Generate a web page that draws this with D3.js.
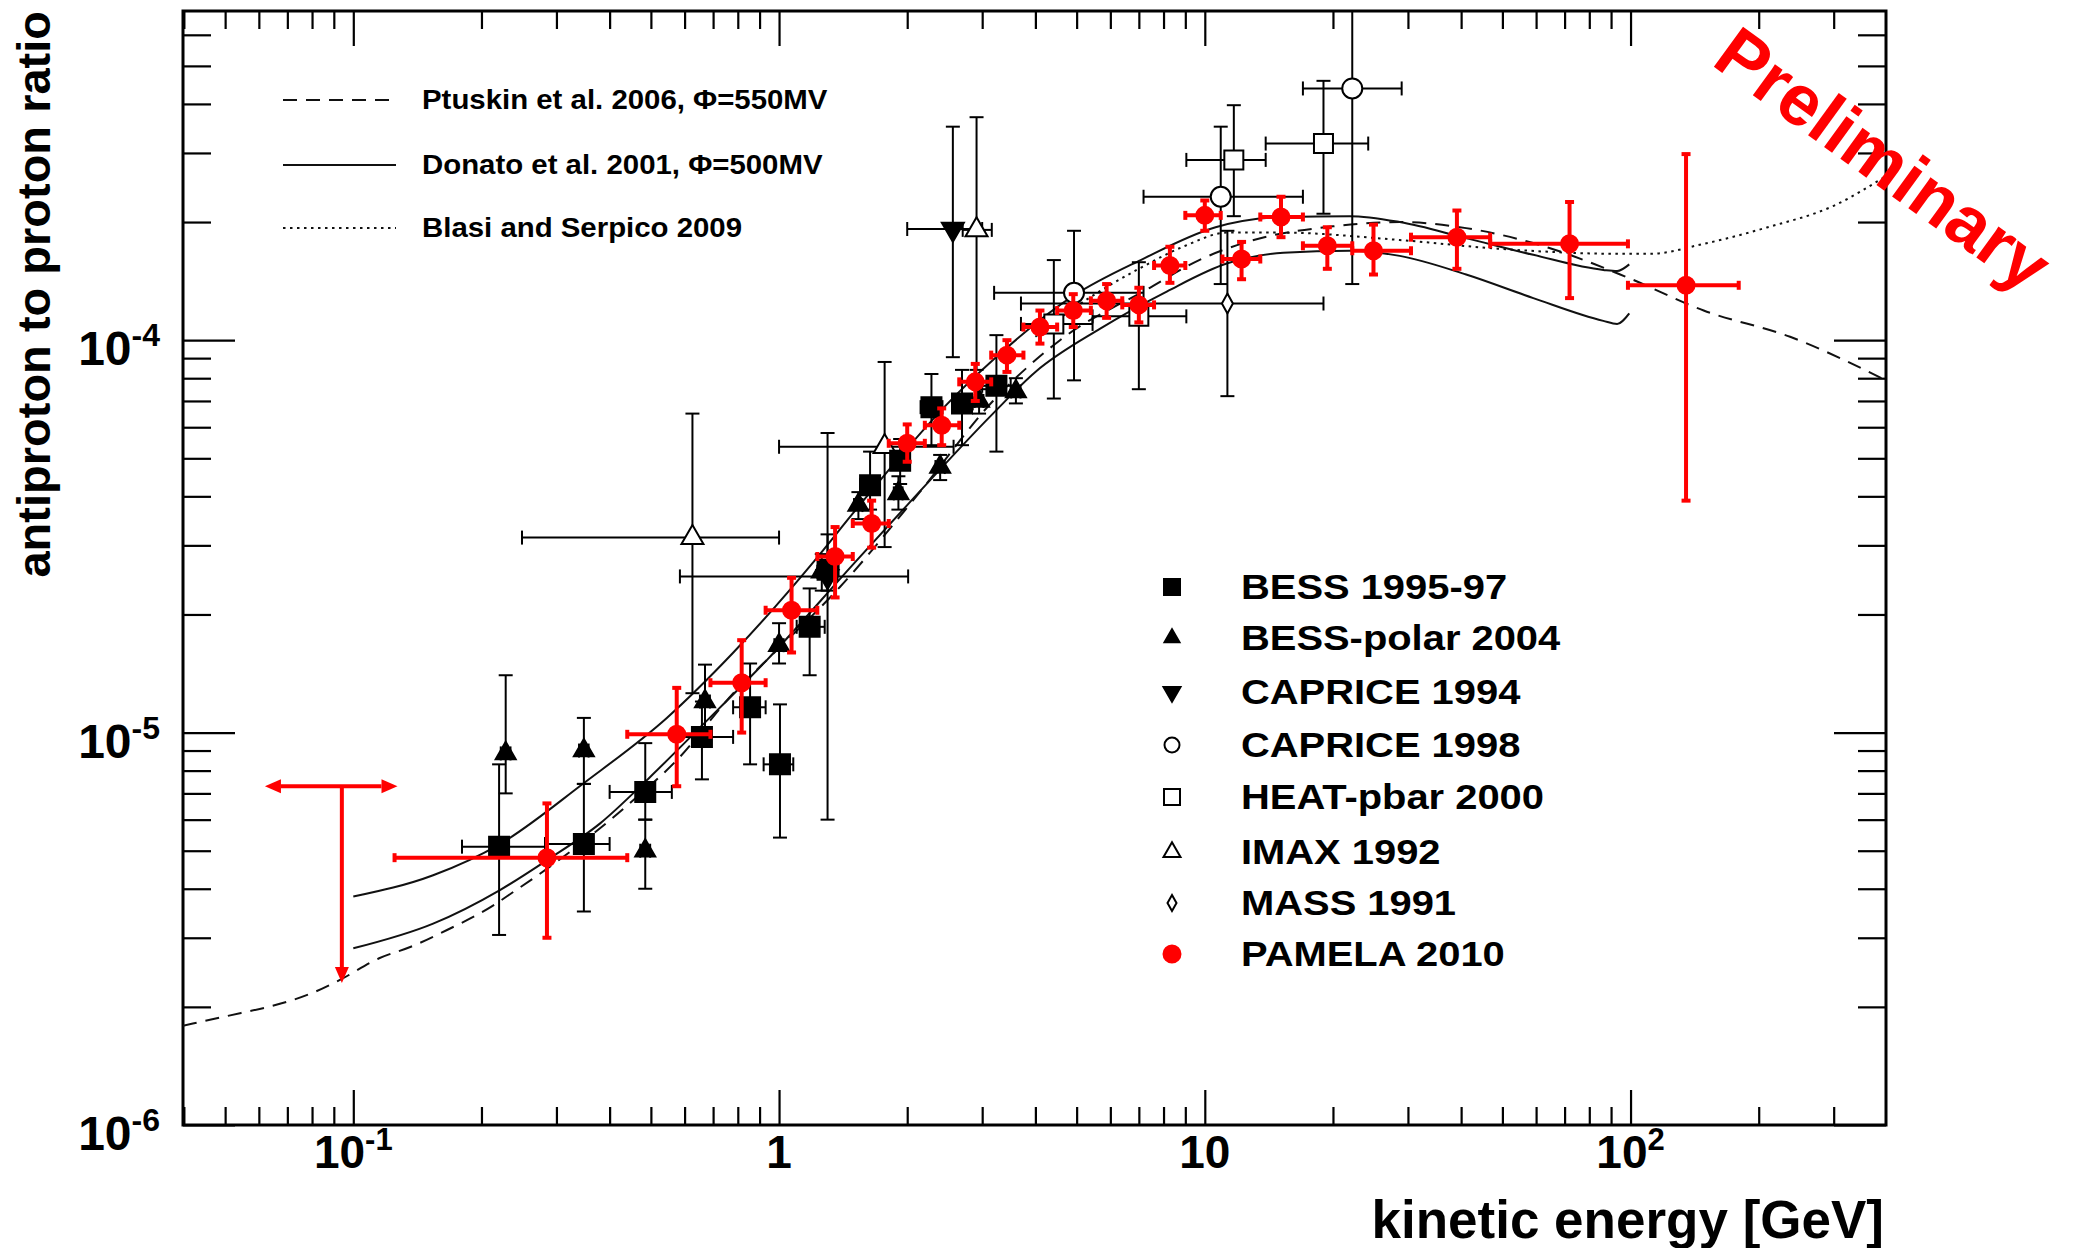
<!DOCTYPE html>
<html>
<head>
<meta charset="utf-8">
<script src="https://cdn.jsdelivr.net/npm/d3@7"></script>
<style>
  html, body { margin: 0; padding: 0; background: #fff; }
  svg { display: block; }
  text { font-family: "Liberation Sans", Arial, Helvetica, sans-serif; font-weight: bold; }
</style>
</head>
<body>
<svg id="chart" width="2080" height="1248"></svg>
<script>
// ---------------------------------------------------------------
// Measurements: [E (GeV), ratio, E low, E high, ratio low, ratio high]
// ---------------------------------------------------------------
const pamela2010 = [
  [0.285, 4.8e-6, 0.125, 0.44, 3.0e-6, 6.6e-6],
  [0.575, 9.9e-6, 0.44, 0.69, 7.3e-6, 1.30e-5],
  [0.817, 1.34e-5, 0.69, 0.93, 1.0e-5, 1.72e-5],
  [1.07, 2.05e-5, 0.93, 1.23, 1.6e-5, 2.48e-5],
  [1.354, 2.81e-5, 1.23, 1.49, 2.21e-5, 3.34e-5],
  [1.65, 3.41e-5, 1.49, 1.81, 2.96e-5, 3.9e-5],
  [2.0, 5.46e-5, 1.81, 2.2, 4.9e-5, 6.1e-5],
  [2.41, 6.07e-5, 2.2, 2.65, 5.4e-5, 6.7e-5],
  [2.89, 7.83e-5, 2.65, 3.15, 7.0e-5, 8.7e-5],
  [3.43, 9.16e-5, 3.15, 3.75, 8.3e-5, 1.0e-4],
  [4.10, 1.08e-4, 3.75, 4.5, 9.8e-5, 1.19e-4],
  [4.91, 1.19e-4, 4.5, 5.4, 1.08e-4, 1.31e-4],
  [5.88, 1.26e-4, 5.4, 6.4, 1.14e-4, 1.39e-4],
  [7.0, 1.23e-4, 6.4, 7.6, 1.11e-4, 1.36e-4],
  [8.28, 1.55e-4, 7.6, 9.0, 1.40e-4, 1.73e-4],
  [10.0, 2.08e-4, 9.0, 10.9, 1.90e-4, 2.27e-4],
  [12.2, 1.61e-4, 11.0, 13.5, 1.43e-4, 1.78e-4],
  [15.1, 2.06e-4, 13.5, 17.0, 1.83e-4, 2.32e-4],
  [19.4, 1.74e-4, 17.0, 22.2, 1.52e-4, 1.94e-4],
  [24.9, 1.69e-4, 22.2, 30.5, 1.47e-4, 1.97e-4],
  [39.1, 1.83e-4, 30.5, 46.8, 1.52e-4, 2.14e-4],
  [71.9, 1.76e-4, 46.8, 98.6, 1.28e-4, 2.25e-4],
  [135, 1.38e-4, 98.6, 179.5, 3.9e-5, 2.98e-4]
];
// PAMELA upper limit: [E, ratio, E low, E high, ratio at arrow tip]
const pamelaLimit = [0.094, 7.3e-6, 0.062, 0.127, 2.3e-6];

const bess9597 = [
  [0.22, 5.12e-6, 0.18, 0.282, 3.05e-6, 8.3e-6],
  [0.348, 5.2e-6, 0.282, 0.40, 3.5e-6, 7.4e-6],
  [0.485, 7.06e-6, 0.40, 0.56, 6.0e-6, 9.4e-6],
  [0.659, 9.75e-6, 0.575, 0.78, 7.6e-6, 1.2e-5],
  [0.855, 1.16e-5, 0.78, 0.93, 8.3e-6, 1.5e-5],
  [1.005, 8.3e-6, 0.92, 1.08, 5.4e-6, 1.18e-5],
  [1.18, 1.86e-5, 1.10, 1.28, 1.40e-5, 2.33e-5],
  [1.30, 2.6e-5, 1.24, 1.38, 2.3e-5, 3.2e-5],
  [1.636, 4.27e-5, 1.55, 1.72, 3.7e-5, 5.2e-5],
  [1.925, 4.93e-5, 1.85, 2.0, 4.3e-5, 5.6e-5],
  [2.28, 6.75e-5, 2.15, 2.42, 5.4e-5, 8.2e-5],
  [2.69, 6.9e-5, 2.55, 2.85, 5.4e-5, 8.4e-5],
  [3.24, 7.65e-5, 3.0, 3.5, 5.2e-5, 1.03e-4]
];
const bessPolar2004 = [
  [0.228, 8.85e-6, 0.222, 0.234, 7.0e-6, 1.4e-5],
  [0.348, 9.0e-6, 0.339, 0.357, 7.4e-6, 1.09e-5],
  [0.485, 5.0e-6, 0.472, 0.498, 4.0e-6, 6.0e-6],
  [0.67, 1.2e-5, 0.652, 0.688, 1.0e-5, 1.49e-5],
  [1.0, 1.67e-5, 0.975, 1.025, 1.5e-5, 1.9e-5],
  [1.26, 2.57e-5, 1.23, 1.29, 2.3e-5, 2.85e-5],
  [1.536, 3.8e-5, 1.5, 1.57, 3.5e-5, 4.1e-5],
  [1.907, 4.07e-5, 1.86, 1.95, 3.7e-5, 4.5e-5],
  [2.39, 4.75e-5, 2.33, 2.45, 4.4e-5, 5.1e-5],
  [2.95, 7.0e-5, 2.88, 3.02, 6.5e-5, 7.5e-5],
  [3.6, 7.4e-5, 3.51, 3.69, 6.9e-5, 8.0e-5]
];
const caprice1994 = [
  [1.3, 2.5e-5, 0.585, 2.01, 6.0e-6, 5.8e-5],
  [2.56, 1.92e-4, 2.0, 3.0, 9.05e-5, 3.5e-4]
];
const caprice1998 = [
  [4.93, 1.32e-4, 3.2, 7.18, 7.9e-5, 1.9e-4],
  [10.9, 2.32e-4, 7.18, 17.0, 1.39e-4, 3.5e-4],
  [22.2, 4.38e-4, 17.0, 29.0, 1.39e-4, 9.0e-4]
];
const heat2000 = [
  [4.42, 1.10e-4, 3.7, 5.45, 7.1e-5, 1.6e-4],
  [7.0, 1.15e-4, 5.45, 9.05, 7.5e-5, 1.58e-4],
  [11.7, 2.88e-4, 9.05, 13.9, 2.07e-4, 3.97e-4],
  [19.0, 3.17e-4, 13.9, 24.2, 2.1e-4, 4.58e-4]
];
const imax1992 = [
  [0.626, 3.14e-5, 0.249, 1.0, 1.26e-5, 6.5e-5],
  [1.77, 5.35e-5, 1.0, 2.57, 2.97e-5, 8.8e-5],
  [2.91, 1.91e-4, 2.7, 3.16, 8.4e-5, 3.7e-4]
];
const mass1991 = [
  [11.3, 1.24e-4, 3.7, 19.0, 7.2e-5, 1.9e-4]
];

// ---------------------------------------------------------------
// Model curves: [E (GeV), ratio]
// ---------------------------------------------------------------
const ptuskin2006 = [
  [0.0398, 1.79e-6], [0.0545, 1.93e-6], [0.0632, 2.0e-6], [0.0801, 2.17e-6],
  [0.0928, 2.34e-6], [0.115, 2.66e-6], [0.137, 2.85e-6], [0.166, 3.14e-6],
  [0.211, 3.6e-6], [0.238, 3.93e-6], [0.268, 4.29e-6], [0.455, 6.73e-6],
  [0.575, 8.5e-6], [0.781, 1.26e-5], [0.97, 1.59e-5], [1.39, 2.35e-5],
  [2.14, 4.1e-5], [3.18, 7.0e-5], [4.57, 1.0e-4], [7.43, 1.36e-4],
  [9.7, 1.60e-4], [12.8, 1.79e-4], [20, 1.95e-4], [28.7, 2.0e-4],
  [41.1, 1.93e-4], [64.2, 1.72e-4], [97.6, 1.45e-4], [148.5, 1.19e-4],
  [237, 1.02e-4], [398, 7.9e-5]
];
const donatoUpper = [
  [0.1, 3.82e-6], [0.154, 4.33e-6], [0.221, 5.2e-6], [0.347, 7.42e-6],
  [0.545, 1.09e-5], [0.781, 1.6e-5], [1.204, 2.72e-5], [1.494, 3.63e-5],
  [1.925, 5.05e-5], [2.475, 6.85e-5], [3.18, 8.9e-5], [4.93, 1.30e-4],
  [7.07, 1.60e-4], [10.6, 1.94e-4], [15.3, 2.06e-4], [21.9, 2.07e-4],
  [28.7, 2.0e-4], [41.1, 1.82e-4], [59.1, 1.65e-4], [86.3, 1.51e-4],
  [93, 1.50e-4], [99.3, 1.56e-4]
];
const donatoLower = [
  [0.1, 2.82e-6], [0.154, 3.26e-6], [0.221, 3.97e-6], [0.285, 4.73e-6],
  [0.38, 5.87e-6], [0.498, 7.71e-6], [0.652, 1.03e-5], [0.936, 1.53e-5],
  [1.5, 2.7e-5], [2.0, 3.8e-5], [3.18, 6.5e-5], [4.0, 8.3e-5],
  [5.68, 1.07e-4], [8.14, 1.33e-4], [11.3, 1.57e-4], [15.3, 1.67e-4],
  [21.9, 1.69e-4], [28.7, 1.64e-4], [41.1, 1.47e-4], [59.1, 1.28e-4],
  [86.3, 1.12e-4], [93, 1.10e-4], [99.3, 1.17e-4]
];
const blasi2009 = [
  [4.0, 1.02e-4], [5.0, 1.22e-4], [7.0, 1.52e-4], [9.0, 1.74e-4],
  [11.3, 1.88e-4], [15, 1.88e-4], [28.7, 1.80e-4], [49, 1.71e-4],
  [94, 1.66e-4], [111, 1.66e-4], [148.5, 1.76e-4], [210, 1.94e-4],
  [300, 2.2e-4], [398, 2.62e-4]
];

// ---------------------------------------------------------------
// Axis ticks and labels
// ---------------------------------------------------------------
const xMajorTicks = [0.1, 1, 10, 100];
const xTickLabels = [["10", "-1"], ["1", ""], ["10", ""], ["10", "2"]];
const yMajorTicks = [1e-6, 1e-5, 1e-4];
const yTickLabels = [["10", "-6"], ["10", "-5"], ["10", "-4"]];
const xTitle = "kinetic energy [GeV]";
const yTitle = "antiproton to proton ratio";
const modelLabels = ["Ptuskin et al. 2006, \u03A6=550MV", "Donato et al. 2001, \u03A6=500MV", "Blasi and Serpico 2009"];
const dataLabels = ["BESS 1995-97", "BESS-polar 2004", "CAPRICE 1994", "CAPRICE 1998", "HEAT-pbar 2000", "IMAX 1992", "MASS 1991", "PAMELA 2010"];
const stamp = "Preliminary";

// ---------------------------------------------------------------
// Layout
// ---------------------------------------------------------------
const L = 183, R = 1886, T = 11, B = 1125;
const RED = "#ff0000";

const svg = d3.select("#chart");
const x = d3.scaleLog().domain([Math.pow(10, -1.4), Math.pow(10, 2.6)]).range([L, R]);
const y = d3.scaleLog().domain([1e-6, 6.9e-4]).range([B, T]);

const xMinor = x.ticks().filter(v => !xMajorTicks.some(m => Math.abs(m - v) / m < 1e-6));
const yMinor = y.ticks().filter(v => !yMajorTicks.some(m => Math.abs(m - v) / m < 1e-6));

function styleAxis(g) {
  g.select(".domain").remove();
  g.selectAll(".tick line").attr("stroke", "#000").attr("stroke-width", 2.2);
  g.selectAll(".tick text").remove();
}
// ticks point inward on all four sides
svg.append("g").attr("transform", `translate(0,${B})`)
  .call(d3.axisTop(x).tickValues(xMajorTicks).tickSize(35).tickFormat("")).call(styleAxis);
svg.append("g").attr("transform", `translate(0,${B})`)
  .call(d3.axisTop(x).tickValues(xMinor).tickSize(18).tickFormat("")).call(styleAxis);
svg.append("g").attr("transform", `translate(0,${T})`)
  .call(d3.axisBottom(x).tickValues(xMajorTicks).tickSize(35).tickFormat("")).call(styleAxis);
svg.append("g").attr("transform", `translate(0,${T})`)
  .call(d3.axisBottom(x).tickValues(xMinor).tickSize(18).tickFormat("")).call(styleAxis);
svg.append("g").attr("transform", `translate(${L},0)`)
  .call(d3.axisRight(y).tickValues(yMajorTicks).tickSize(52).tickFormat("")).call(styleAxis);
svg.append("g").attr("transform", `translate(${L},0)`)
  .call(d3.axisRight(y).tickValues(yMinor).tickSize(28).tickFormat("")).call(styleAxis);
svg.append("g").attr("transform", `translate(${R},0)`)
  .call(d3.axisLeft(y).tickValues(yMajorTicks).tickSize(52).tickFormat("")).call(styleAxis);
svg.append("g").attr("transform", `translate(${R},0)`)
  .call(d3.axisLeft(y).tickValues(yMinor).tickSize(28).tickFormat("")).call(styleAxis);

// frame
svg.append("rect").attr("x", L).attr("y", T).attr("width", R - L).attr("height", B - T)
  .attr("fill", "none").attr("stroke", "#000").attr("stroke-width", 3);

// tick labels
xMajorTicks.forEach((v, i) => {
  const t = svg.append("text").attr("x", x(v)).attr("y", 1168)
    .attr("text-anchor", "middle").attr("font-size", 46);
  t.append("tspan").text(xTickLabels[i][0]);
  if (xTickLabels[i][1]) t.append("tspan").attr("dy", -18).attr("font-size", 31).text(xTickLabels[i][1]);
});
yMajorTicks.forEach((v, i) => {
  const t = svg.append("text").attr("x", 160).attr("y", y(v) + 25)
    .attr("text-anchor", "end").attr("font-size", 48);
  t.append("tspan").text(yTickLabels[i][0]);
  t.append("tspan").attr("dy", -19).attr("font-size", 32).text(yTickLabels[i][1]);
});

// axis titles
svg.append("text").attr("x", 1884).attr("y", 1238).attr("text-anchor", "end")
  .attr("font-size", 53).text(xTitle);
svg.append("text").attr("transform", `translate(50,${T}) rotate(-90)`)
  .attr("text-anchor", "end").attr("font-size", 47).text(yTitle);

// ---------------------------------------------------------------
// Plot contents (clipped to the frame)
// ---------------------------------------------------------------
svg.append("defs").append("clipPath").attr("id", "plotArea")
  .append("rect").attr("x", L).attr("y", T).attr("width", R - L).attr("height", B - T);
const plot = svg.append("g").attr("clip-path", "url(#plotArea)");

const line = d3.line().x(d => x(d[0])).y(d => y(d[1])).curve(d3.curveMonotoneX);
const curveStyles = [
  { data: ptuskin2006, dash: "14,9" },
  { data: donatoUpper, dash: null },
  { data: donatoLower, dash: null },
  { data: blasi2009, dash: "2.5,4.5" }
];
curveStyles.forEach(c => {
  plot.append("path").attr("d", line(c.data)).attr("fill", "none")
    .attr("stroke", "#111").attr("stroke-width", 2)
    .attr("stroke-dasharray", c.dash);
});

function errorBars(data, color, width, cap) {
  const g = plot.append("g").attr("stroke", color).attr("stroke-width", width).attr("fill", "none");
  data.forEach(d => {
    const [e, r, xl, xh, yl, yh] = d;
    const cx = x(e), cy = y(r);
    if (xh > xl) {
      g.append("line").attr("x1", x(xl)).attr("x2", x(xh)).attr("y1", cy).attr("y2", cy);
      [xl, xh].forEach(v => g.append("line").attr("x1", x(v)).attr("x2", x(v))
        .attr("y1", cy - cap / 2).attr("y2", cy + cap / 2));
    }
    if (yh > yl) {
      g.append("line").attr("x1", cx).attr("x2", cx).attr("y1", y(yl)).attr("y2", y(yh));
      [yl, yh].forEach(v => g.append("line").attr("y1", y(v)).attr("y2", y(v))
        .attr("x1", cx - cap / 2).attr("x2", cx + cap / 2));
    }
  });
}

const diamondPath = "M0,-10L5.5,0L0,10L-5.5,0Z";
function markerPath(kind, s) {
  switch (kind) {
    case "square": return d3.symbol(d3.symbolSquare, s * s)();
    case "triUp": return d3.symbol(d3.symbolTriangle, s * s * 0.433)();
    case "triDown": return d3.symbol(d3.symbolTriangle, s * s * 0.433)();
    case "circle": return d3.symbol(d3.symbolCircle, Math.PI * s * s / 4)();
    case "diamond": return diamondPath;
  }
}
function markers(group, data, kind, size, fill, stroke) {
  data.forEach(d => {
    group.append("path").attr("d", markerPath(kind, size))
      .attr("transform", `translate(${x(d[0])},${y(d[1])})` + (kind === "triDown" ? " rotate(180)" : ""))
      .attr("fill", fill).attr("stroke", stroke).attr("stroke-width", 2);
  });
}

// black data sets
const blackSets = [
  { data: mass1991, kind: "diamond", size: 20, fill: "#fff" },
  { data: imax1992, kind: "triUp", size: 22, fill: "#fff" },
  { data: heat2000, kind: "square", size: 19, fill: "#fff" },
  { data: caprice1998, kind: "circle", size: 20, fill: "#fff" },
  { data: caprice1994, kind: "triDown", size: 22, fill: "#000" },
  { data: bessPolar2004, kind: "triUp", size: 20, fill: "#000" },
  { data: bess9597, kind: "square", size: 20, fill: "#000" }
];
blackSets.forEach(s => errorBars(s.data, "#000", 2, 14));
const blackMarks = plot.append("g");
blackSets.forEach(s => markers(blackMarks, s.data, s.kind, s.size, s.fill, "#000"));

// PAMELA points
errorBars(pamela2010, RED, 4, 9);
markers(plot.append("g"), pamela2010, "circle", 17, RED, RED);

// PAMELA upper limit with arrows
(function () {
  const [e, r, xl, xh, tip] = pamelaLimit;
  const g = plot.append("g");
  const cx = x(e), cy = y(r), ah = 16, aw = 7;
  g.append("line").attr("x1", x(xl) + ah).attr("x2", x(xh) - ah).attr("y1", cy).attr("y2", cy)
    .attr("stroke", RED).attr("stroke-width", 4);
  g.append("line").attr("x1", cx).attr("x2", cx).attr("y1", cy).attr("y2", y(tip) - ah)
    .attr("stroke", RED).attr("stroke-width", 4);
  g.append("path").attr("fill", RED)
    .attr("d", `M${x(xl)},${cy}L${x(xl) + ah},${cy - aw}L${x(xl) + ah},${cy + aw}Z`);
  g.append("path").attr("fill", RED)
    .attr("d", `M${x(xh)},${cy}L${x(xh) - ah},${cy - aw}L${x(xh) - ah},${cy + aw}Z`);
  g.append("path").attr("fill", RED)
    .attr("d", `M${cx},${y(tip)}L${cx - aw},${y(tip) - ah}L${cx + aw},${y(tip) - ah}Z`);
})();

// ---------------------------------------------------------------
// Legends
// ---------------------------------------------------------------
const modelLegendY = [100, 165, 228];
const modelDash = ["14,9", null, "2.5,4.5"];
modelLabels.forEach((lab, i) => {
  svg.append("line").attr("x1", 283).attr("x2", 396).attr("y1", modelLegendY[i]).attr("y2", modelLegendY[i])
    .attr("stroke", "#111").attr("stroke-width", 2).attr("stroke-dasharray", modelDash[i]);
  svg.append("text").attr("transform", `translate(422,${modelLegendY[i] + 9}) scale(1.05,1)`)
    .attr("font-size", 28).text(lab);
});

const dataLegendY = [587, 638, 692, 745, 797, 852, 903, 954];
const legendKinds = [
  ["square", 16, "#000", "#000"], ["triUp", 15, "#000", "#000"], ["triDown", 17, "#000", "#000"],
  ["circle", 15, "#fff", "#000"], ["square", 16, "#fff", "#000"], ["triUp", 17, "#fff", "#000"],
  ["diamond", 14, "#fff", "#000"], ["circle", 17, RED, RED]
];
dataLabels.forEach((lab, i) => {
  const [kind, size, fill, stroke] = legendKinds[i];
  svg.append("path").attr("d", kind === "diamond" ? "M0,-8L4.5,0L0,8L-4.5,0Z" : markerPath(kind, size))
    .attr("transform", `translate(1172,${dataLegendY[i]})` + (kind === "triDown" ? " rotate(180)" : ""))
    .attr("fill", fill).attr("stroke", stroke).attr("stroke-width", 2);
  svg.append("text").attr("transform", `translate(1241,${dataLegendY[i] + 12}) scale(1.14,1)`)
    .attr("font-size", 35).text(lab);
});

// stamp
svg.append("text").attr("transform", "translate(1710,64) rotate(36)")
  .attr("font-size", 72).attr("fill", RED).text(stamp);
</script>
</body>
</html>
